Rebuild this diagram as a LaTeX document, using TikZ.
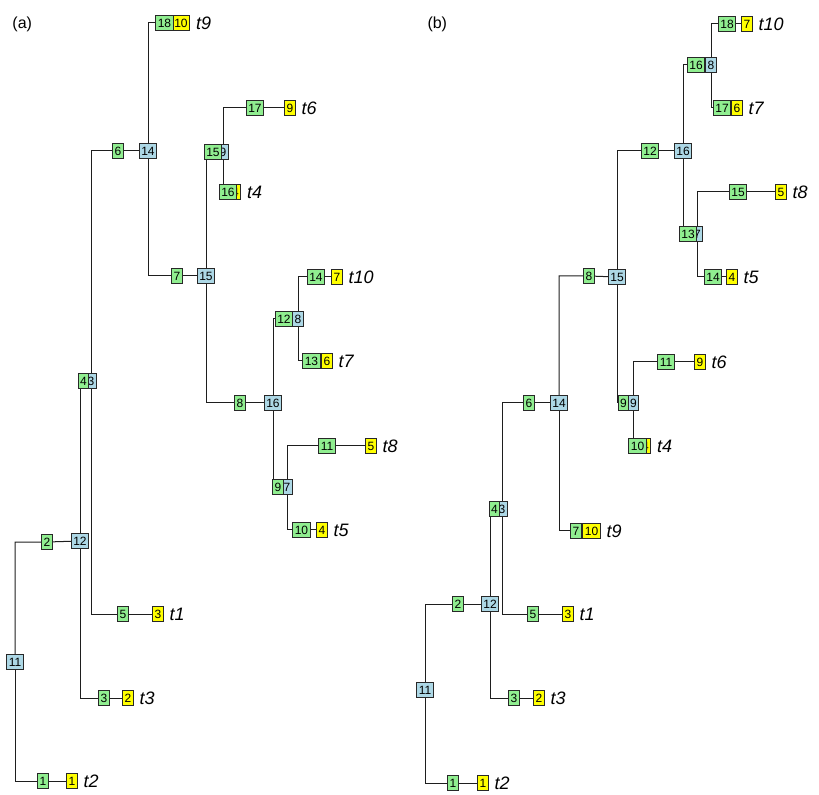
\documentclass[tikz,border=0pt]{standalone}
\usepackage{fontspec}
\setmainfont{Liberation Sans}
\usetikzlibrary{positioning,backgrounds}

\definecolor{nodeblue}{RGB}{173,216,230}
\definecolor{edgegreen}{RGB}{144,238,144}
\definecolor{leafyellow}{RGB}{255,255,0}

\tikzset{every picture/.style={line width=0.75pt}}
\tikzset{
  numbox/.style={rectangle, draw={rgb, 255:red, 40; green, 40; blue, 40}, line width=0.75pt,
    inner xsep=1.5pt, inner ysep=0pt, minimum height=11.25pt, font=\fontsize{9}{9}\selectfont},
  bnode/.style={numbox, fill=nodeblue},
  gnode/.style={numbox, fill=edgegreen},
  ynode/.style={numbox, fill=leafyellow},
  tlab/.style={inner sep=0pt, font=\fontsize{13.5}{13.5}\selectfont\itshape},
  plab/.style={inner sep=0pt, anchor=base west, font=\fontsize{12}{12}\selectfont},
  lnk/.style={draw={rgb, 255:red, 30; green, 30; blue, 30}, line width=0.75pt},
}

\begin{document}
\begin{tikzpicture}[x=0.75pt,y=0.75pt,yscale=-1,xscale=1]
\useasboundingbox (0,0) rectangle (819,795);

%Panel (a)
\node[plab] (pa) at (12,29) {(a)};
%inner nodes
\node[bnode] (a11) at (15,662) {11};
\node[bnode] (a12) at (80,541) {12};
\node[bnode] (a3) at (91,381) {3};
\node[bnode] (a14) at (148,151) {14};
\node[bnode] (a15) at (206,276) {15};
\node[bnode] (a9) at (223,152) {9};
\node[bnode] (a16) at (273,403) {16};
\node[bnode] (a8) at (298,319) {8};
\node[bnode] (a7) at (287,487) {7};
%leaves
\node[ynode] (ay10) at (181,23) {10};
\node[ynode] (ay9) at (290,108) {9};
\node[ynode] (ay4) at (235.5,192) {4};
\node[ynode] (ay7) at (337,277) {7};
\node[ynode] (ay6) at (327,361) {6};
\node[ynode] (ay5) at (371,446) {5};
\node[ynode] (ay4b) at (322,530) {4};
\node[ynode] (ay3) at (158,614) {3};
\node[ynode] (ay2) at (128,698) {2};
\node[ynode] (ay1) at (72,781) {1};
%edge labels
\node[gnode] (ag18) at (164.5,23) {18};
\node[gnode] (ag6) at (118,151) {6};
\node[gnode] (ag7) at (177,276) {7};
\node[gnode] (ag15) at (213,152) {15};
\node[gnode] (ag17) at (255,108) {17};
\node[gnode] (ag16) at (228,192) {16};
\node[gnode] (ag8) at (240,403) {8};
\node[gnode] (ag12) at (284,319) {12};
\node[gnode] (ag14) at (316,277) {14};
\node[gnode] (ag13) at (311.5,361) {13};
\node[gnode] (ag9) at (278,487) {9};
\node[gnode] (ag11) at (327,446) {11};
\node[gnode] (ag10) at (301.5,530) {10};
\node[gnode] (ag4) at (83.5,381) {4};
\node[gnode] (ag5) at (123,614) {5};
\node[gnode] (ag3) at (104,698) {3};
\node[gnode] (ag2) at (47,542) {2};
\node[gnode] (ag1) at (43,781) {1};
%tip labels
\node[tlab, right=4pt of ay10] (at9) {t9};
\node[tlab, right=4pt of ay9] (at6) {t6};
\node[tlab, right=4pt of ay4] (at4) {t4};
\node[tlab, right=4pt of ay7] (at10) {t10};
\node[tlab, right=4pt of ay6] (at7) {t7};
\node[tlab, right=4pt of ay5] (at8) {t8};
\node[tlab, right=4pt of ay4b] (at5) {t5};
\node[tlab, right=4pt of ay3] (at1) {t1};
\node[tlab, right=4pt of ay2] (at3) {t3};
\node[tlab, right=4pt of ay1] (at2) {t2};

%Panel (b)
\node[plab] (pb) at (427,29) {(b)};
%inner nodes
\node[bnode] (b11) at (425,690) {11};
\node[bnode] (b12) at (490,604) {12};
\node[bnode] (b3) at (502,509) {3};
\node[bnode] (b14) at (559,403) {14};
\node[bnode] (b15) at (617,277) {15};
\node[bnode] (b9) at (633.5,403) {9};
\node[bnode] (b16) at (683,151) {16};
\node[bnode] (b8) at (711,65) {8};
\node[bnode] (b7) at (697.5,234) {7};
%leaves
\node[ynode] (by7) at (747,24) {7};
\node[ynode] (by6) at (737,108) {6};
\node[ynode] (by5) at (781,192) {5};
\node[ynode] (by4) at (732,277) {4};
\node[ynode] (by9) at (700,362) {9};
\node[ynode] (by4b) at (645.5,446) {4};
\node[ynode] (by10) at (591.5,531) {10};
\node[ynode] (by3) at (568,614) {3};
\node[ynode] (by2) at (539,698) {2};
\node[ynode] (by1) at (483,783) {1};
%edge labels
\node[gnode] (bg2) at (458,604) {2};
\node[gnode] (bg1) at (453,783) {1};
\node[gnode] (bg4) at (494.5,509) {4};
\node[gnode] (bg3) at (514,698) {3};
\node[gnode] (bg6) at (529,403) {6};
\node[gnode] (bg5) at (533,614) {5};
\node[gnode] (bg8) at (589,276) {8};
\node[gnode] (bg7) at (576,531) {7};
\node[gnode] (bg12) at (650,151) {12};
\node[gnode] (bg9) at (623.5,403) {9};
\node[gnode] (bg16) at (696,65) {16};
\node[gnode] (bg13) at (688,234) {13};
\node[gnode] (bg18) at (727,24) {18};
\node[gnode] (bg17) at (722,108) {17};
\node[gnode] (bg15) at (738,192) {15};
\node[gnode] (bg14) at (713,277) {14};
\node[gnode] (bg11) at (666,362) {11};
\node[gnode] (bg10) at (637.5,446) {10};
%tip labels
\node[tlab, right=4pt of by7] (bt10) {t10};
\node[tlab, right=4pt of by6] (bt7) {t7};
\node[tlab, right=4pt of by5] (bt8) {t8};
\node[tlab, right=4pt of by4] (bt5) {t5};
\node[tlab, right=4pt of by9] (bt6) {t6};
\node[tlab, right=4pt of by4b] (bt4) {t4};
\node[tlab, right=4pt of by10] (bt9) {t9};
\node[tlab, right=4pt of by3] (bt1) {t1};
\node[tlab, right=4pt of by2] (bt3) {t3};
\node[tlab, right=4pt of by1] (bt2) {t2};

%Branches, behind the boxes
\begin{scope}[on background layer]
\draw[lnk] (a11) |- (ag2) -- (a12);
\draw[lnk] (a11) |- (ag1) -- (ay1);
\draw[lnk] (a12) |- (ag4) -- (a3);
\draw[lnk] (a12) |- (ag3) -- (ay2);
\draw[lnk] (a3) |- (ag6) -- (a14);
\draw[lnk] (a3) |- (ag5) -- (ay3);
\draw[lnk] (a14) |- (ag18) -- (ay10);
\draw[lnk] (a14) |- (ag7) -- (a15);
\draw[lnk] (a15) |- (ag15) -- (a9);
\draw[lnk] (a15) |- (ag8) -- (a16);
\draw[lnk] (a9) |- (ag17) -- (ay9);
\draw[lnk] (a9) |- (ag16) -- (ay4);
\draw[lnk] (a16) |- (ag12) -- (a8);
\draw[lnk] (a16) |- (ag9) -- (a7);
\draw[lnk] (a8) |- (ag14) -- (ay7);
\draw[lnk] (a8) |- (ag13) -- (ay6);
\draw[lnk] (a7) |- (ag11) -- (ay5);
\draw[lnk] (a7) |- (ag10) -- (ay4b);

\draw[lnk] (b11) |- (bg2) -- (b12);
\draw[lnk] (b11) |- (bg1) -- (by1);
\draw[lnk] (b12) |- (bg4) -- (b3);
\draw[lnk] (b12) |- (bg3) -- (by2);
\draw[lnk] (b3) |- (bg6) -- (b14);
\draw[lnk] (b3) |- (bg5) -- (by3);
\draw[lnk] (b14) |- (bg8) -- (b15);
\draw[lnk] (b14) |- (bg7) -- (by10);
\draw[lnk] (b15) |- (bg12) -- (b16);
\draw[lnk] (b15) |- (bg9) -- (b9);
\draw[lnk] (b16) |- (bg16) -- (b8);
\draw[lnk] (b16) |- (bg13) -- (b7);
\draw[lnk] (b8) |- (bg18) -- (by7);
\draw[lnk] (b8) |- (bg17) -- (by6);
\draw[lnk] (b7) |- (bg15) -- (by5);
\draw[lnk] (b7) |- (bg14) -- (by4);
\draw[lnk] (b9) |- (bg11) -- (by9);
\draw[lnk] (b9) |- (bg10) -- (by4b);
\end{scope}
\end{tikzpicture}
\end{document}
